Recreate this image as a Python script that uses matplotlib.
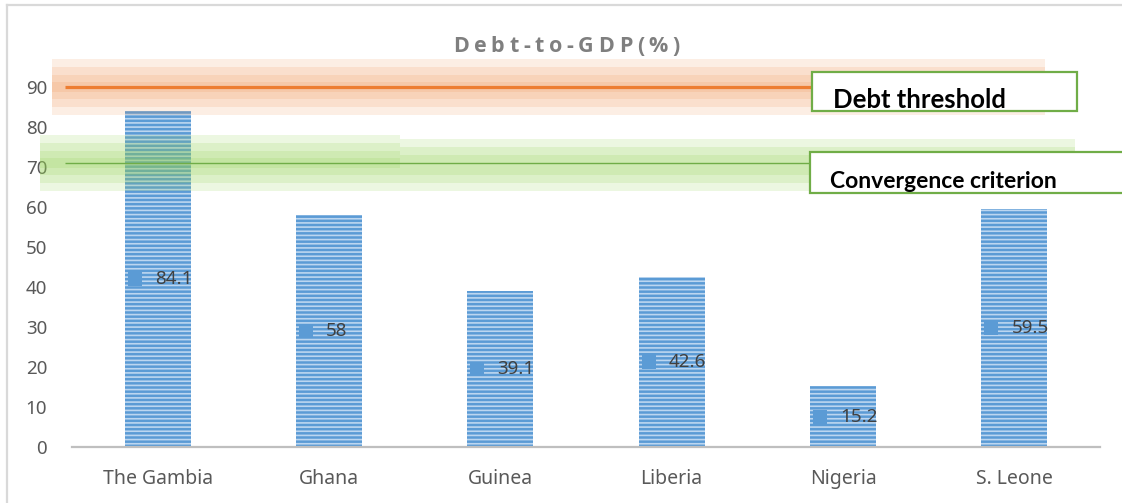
import matplotlib
matplotlib.use('Agg')
import matplotlib.pyplot as plt
from matplotlib.patches import Rectangle
from matplotlib.lines import Line2D

# ---- data ----
countries = ["The Gambia", "Ghana", "Guinea", "Liberia", "Nigeria", "S. Leone"]
debt = [84.1, 58, 39.1, 42.6, 15.2, 59.5]
yticks = [0, 10, 20, 30, 40, 50, 60, 70, 80, 90]
debt_threshold = 90
convergence = 71
title = "Debt-to-GDP(%)"
label_threshold = "Debt threshold"
label_convergence = "Convergence criterion"

plt.rcParams['hatch.linewidth'] = 1.2

W, H = 1122, 503
fig = plt.figure(figsize=(W / 100, H / 100), dpi=100)
fig.patch.set_facecolor('white')
AX_L, AX_R, AX_B, AX_T = 72, 1100, 447, 63
YMAX = 96
ax = fig.add_axes([AX_L / W, 1 - AX_B / H, (AX_R - AX_L) / W, (AX_B - AX_T) / H])
ax.set_xlim(-0.5, len(countries) - 0.5)
ax.set_ylim(0, YMAX)
PXX = (AX_R - AX_L) / len(countries)
PXY = (AX_B - AX_T) / YMAX


def xd(px):
    return (px - AX_L) / PXX - 0.5


def dy(px):
    return px / PXY


def fx(px):
    return px / W


def fy(py):
    return 1 - py / H


x = list(range(len(countries)))
ax.bar(x, debt, width=0.385, color='#5B9BD5', edgecolor='#BCD6F0', hatch='----',
       linewidth=0, zorder=2)

# data labels with legend key
for i, v in zip(x, debt):
    ax.plot([i - 23 / PXX], [v / 2], marker='s', markersize=9.5, color='#5B9BD5',
            markeredgewidth=0, zorder=4)
    ax.text(i - 3 / PXX, v / 2, f"{v:g}", ha='left', va='center', fontsize=13.5,
            color='#404040', family='Noto Sans', zorder=5)


# glows
def glow(x0, x1, center, hws, color, alpha):
    for hw in hws:
        ax.add_patch(Rectangle((xd(x0), center - dy(hw)), xd(x1) - xd(x0), 2 * dy(hw),
                               facecolor=color, alpha=alpha, linewidth=0, zorder=3,
                               clip_on=False))


glow(52, 1045, debt_threshold, [28, 20, 12, 5], '#F08A45', 0.14)
glow(40, 400, convergence, [28, 20, 12, 5], '#92D050', 0.17)
glow(400, 1075, convergence - dy(2), [26, 18, 10], '#92D050', 0.17)

ax.plot([xd(65), xd(812)], [debt_threshold, debt_threshold], color='#ED7D31', lw=2.3,
        zorder=4, clip_on=False, solid_capstyle='butt')
ax.plot([xd(65), xd(810)], [convergence, convergence], color='#70AD47', lw=1.0,
        zorder=4, clip_on=False, solid_capstyle='butt')

# axes styling
for s in ['left', 'right', 'top']:
    ax.spines[s].set_visible(False)
ax.spines['bottom'].set_color('#BFBFBF')
ax.spines['bottom'].set_linewidth(1.6)
ax.set_yticks(yticks)
ax.set_yticklabels([str(t) for t in yticks], family='Noto Sans', fontsize=13.5, color='#595959')
ax.set_xticks(x)
ax.set_xticklabels(countries, family='Noto Sans', fontsize=14, color='#595959')
ax.tick_params(axis='y', length=0, pad=18)
ax.tick_params(axis='x', length=0, pad=16)
ax.set_facecolor('none')

# boxes
fig.add_artist(Rectangle((fx(812), fy(111)), fx(1077) - fx(812), fy(72) - fy(111),
                         transform=fig.transFigure, facecolor='white', edgecolor='#70AD47',
                         linewidth=1.6, zorder=5))
fig.add_artist(Rectangle((fx(810), fy(193)), fx(1140) - fx(810), fy(152) - fy(193),
                         transform=fig.transFigure, facecolor='white', edgecolor='#70AD47',
                         linewidth=1.6, zorder=5))
fig.text(fx(833), fy(108), label_threshold, ha='left', va='baseline', fontsize=18.5,
         fontweight='bold', family='Lato', color='black', zorder=6)
fig.text(fx(830), fy(188), label_convergence, ha='left', va='baseline', fontsize=16.5,
         fontweight='bold', family='Lato', color='black', zorder=6)

# frame
fig.add_artist(Line2D([fx(7), fx(7)], [0, fy(5)], color='#D9D9D9', lw=1.6,
                      transform=fig.transFigure))
fig.add_artist(Line2D([fx(7), 1], [fy(5), fy(5)], color='#D9D9D9', lw=1.6,
                      transform=fig.transFigure))

# title with letter spacing
renderer = fig.canvas.get_renderer()
TITLE_L, TITLE_R = 453, 680
chars = []
widths = []
for ch in title:
    t = fig.text(0, 0, ch, fontsize=15.5, fontweight='bold', family='Open Sans',
                 color='#7F7F7F', va='baseline', ha='left')
    widths.append(t.get_window_extent(renderer).width)
    chars.append(t)
track = (TITLE_R - TITLE_L - sum(widths)) / (len(title) - 1)
pos = TITLE_L
for t, w in zip(chars, widths):
    t.set_position((fx(pos), fy(52)))
    pos += w + track

fig.savefig('out.png', dpi=100)
